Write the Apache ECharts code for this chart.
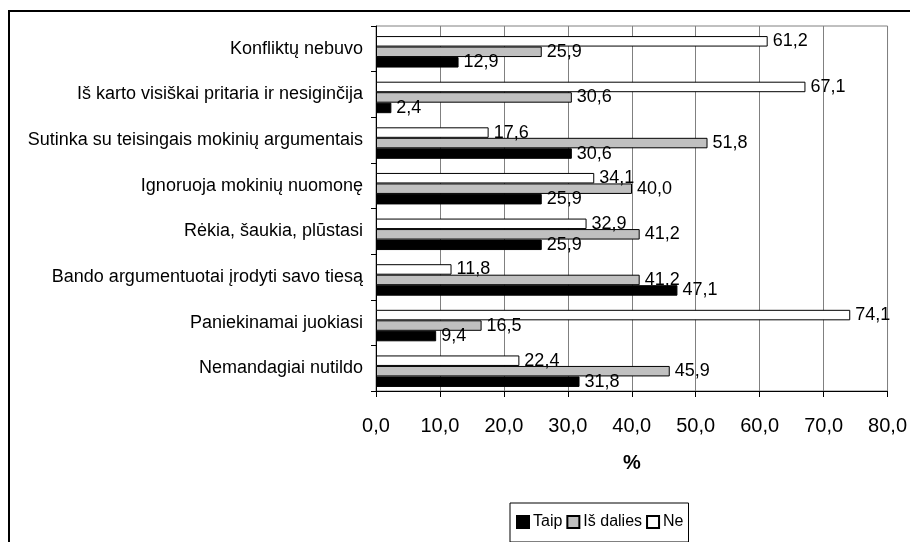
<!DOCTYPE html>
<html>
<head>
<meta charset="utf-8">
<script src="https://cdn.jsdelivr.net/npm/echarts@6/dist/echarts.min.js"></script>
<style>
  html, body { margin: 0; padding: 0; background: #fff; }
  #chart { width: 910px; height: 542px; }
</style>
</head>
<body>
<div id="chart"></div>
<script>
// Teacher reactions to conflicts, % of answers
const categories = [
  'Konfliktų nebuvo',
  'Iš karto visiškai pritaria ir nesiginčija',
  'Sutinka su teisingais mokinių argumentais',
  'Ignoruoja mokinių nuomonę',
  'Rėkia, šaukia, plūstasi',
  'Bando argumentuotai įrodyti savo tiesą',
  'Paniekinamai juokiasi',
  'Nemandagiai nutildo'
];
const taip = [12.9, 2.4, 30.6, 25.9, 25.9, 47.1, 9.4, 31.8];
const isDalies = [25.9, 30.6, 51.8, 40.0, 41.2, 41.2, 16.5, 45.9];
const ne = [61.2, 67.1, 17.6, 34.1, 32.9, 11.8, 74.1, 22.4];
const xTicks = [0, 10, 20, 30, 40, 50, 60, 70, 80];

const FONT = 'Liberation Sans, Arial, sans-serif';
const fmt = v => v.toFixed(1).replace('.', ',');
const X_MIN = xTicks[0], X_MAX = xTicks[xTicks.length - 1];

function barSeries(name, data, color) {
  return {
    name: name,
    type: 'bar',
    xAxisIndex: 1,
    yAxisIndex: 1,
    data: data,
    barGap: '0%',
    barCategoryGap: '31%',
    itemStyle: { color: color, borderColor: '#000', borderWidth: 1 },
    label: {
      show: true,
      position: 'right',
      distance: 5,
      color: '#000',
      fontFamily: FONT,
      fontSize: 18,
      formatter: p => fmt(p.value)
    },
    emphasis: { disabled: true },
    animation: false
  };
}

const chart = echarts.init(document.getElementById('chart'), null, { renderer: 'canvas' });
chart.setOption({
  backgroundColor: '#fff',
  animation: false,
  // grid 0 carries the frame, gridlines and axes; grid 1 (same x scale,
  // groups sitting slightly low in each band) carries the bars
  grid: [
    {
      left: 376, right: 22, top: 26, bottom: 151,
      show: true, borderColor: '#808080', borderWidth: 1, backgroundColor: 'transparent'
    },
    { left: 376, right: 22, top: 29, bottom: 148, show: false }
  ],
  graphic: [{
    type: 'rect',
    shape: { x: 9, y: 11, width: 1000, height: 1000 },
    style: { fill: 'none', stroke: '#000', lineWidth: 2 },
    silent: true
  }],
  legend: {
    data: ['Taip', 'Iš dalies', 'Ne'],
    left: 510, top: 503,
    orient: 'horizontal',
    icon: 'rect',
    itemWidth: 12, itemHeight: 12,
    itemGap: 4,
    padding: [11, 5, 12, 6],
    borderColor: '#000', borderWidth: 1,
    textStyle: { fontFamily: FONT, fontSize: 16, color: '#000', padding: [0, 0, 0, -1] },
    selectedMode: false
  },
  xAxis: [
    {
      type: 'value', gridIndex: 0,
      min: X_MIN, max: X_MAX, interval: 10,
      name: '%', nameLocation: 'middle', nameGap: 62,
      nameTextStyle: { fontFamily: FONT, fontSize: 20, fontWeight: 'bold', color: '#000' },
      axisLine: { show: true, lineStyle: { color: '#000', width: 1 } },
      axisTick: { show: true, length: 6, lineStyle: { color: '#000' } },
      axisLabel: { margin: 25, fontFamily: FONT, fontSize: 20, color: '#000', formatter: v => fmt(v) },
      splitLine: { show: true, lineStyle: { color: '#808080', width: 1 } }
    },
    {
      type: 'value', gridIndex: 1,
      min: X_MIN, max: X_MAX, interval: 10,
      show: false, splitLine: { show: false }
    }
  ],
  yAxis: [
    {
      type: 'category', gridIndex: 0,
      data: categories,
      inverse: true,
      axisLine: { show: true, lineStyle: { color: '#000', width: 1 } },
      axisTick: { show: true, length: 5, inside: false, lineStyle: { color: '#000' } },
      axisLabel: { margin: 13, fontFamily: FONT, fontSize: 18, color: '#000' },
      splitLine: { show: false }
    },
    {
      type: 'category', gridIndex: 1,
      data: categories,
      inverse: true,
      show: false
    }
  ],
  // within each group: Ne on top, Iš dalies in the middle, Taip at the bottom
  series: [
    barSeries('Ne', ne, '#ffffff'),
    barSeries('Iš dalies', isDalies, '#c0c0c0'),
    barSeries('Taip', taip, '#000000')
  ]
});
</script>
</body>
</html>
